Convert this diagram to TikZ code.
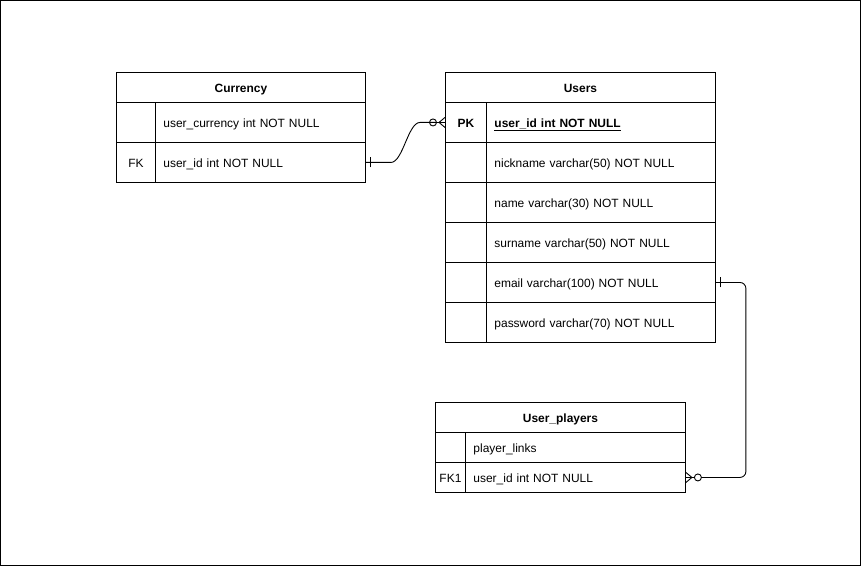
\documentclass[tikz,border=0pt]{standalone}
\usepackage{fontspec}
\setmainfont{Liberation Sans}
\begin{document}
\begin{tikzpicture}[x=1bp,y=-1bp,line width=0.9bp,
  every node/.style={font=\fontsize{12}{14}\selectfont, text height=9.5bp, text depth=0pt},
  hdr/.style={draw, font=\fontsize{12}{14}\selectfont\bfseries, minimum height=30bp, inner sep=0pt, anchor=north west},
  keyc/.style={draw, minimum height=40bp, inner sep=0pt, anchor=north west},
  fld/.style={draw, minimum height=40bp, inner xsep=8bp, inner ysep=0pt, anchor=north west, align=left},
  conn/.style={line width=0.9bp}]
\useasboundingbox (0,0) rectangle (861,566);
\draw (0.5,0.5) rectangle (860.5,565.5);
% Currency
\node[hdr, minimum width=249bp] (cur) at (116,72) {Currency};
\node[keyc, minimum width=39bp] (curk1) at (116,102) {};
\node[fld, text width=194bp] (curf1) at (155,102) {user\_currency int NOT NULL};
\node[keyc, minimum width=39bp] (curk2) at (116,142) {FK};
\node[fld, text width=194bp] (curf2) at (155,142) {user\_id int NOT NULL};
% Users
\node[hdr, minimum width=270bp] (usr) at (445,72) {Users};
\node[keyc, minimum width=41bp, font=\fontsize{12}{14}\selectfont\bfseries] (usk1) at (445,102) {PK};
\node[fld, text width=213bp, font=\fontsize{12}{14}\selectfont\bfseries] (usf1) at (486,102) {\underline{user\_id int NOT NULL}};
\node[keyc, minimum width=41bp] (usk2) at (445,142) {};
\node[fld, text width=213bp] (usf2) at (486,142) {nickname varchar(50) NOT NULL};
\node[keyc, minimum width=41bp] (usk3) at (445,182) {};
\node[fld, text width=213bp] (usf3) at (486,182) {name varchar(30) NOT NULL};
\node[keyc, minimum width=41bp] (usk4) at (445,222) {};
\node[fld, text width=213bp] (usf4) at (486,222) {surname varchar(50) NOT NULL};
\node[keyc, minimum width=41bp] (usk5) at (445,262) {};
\node[fld, text width=213bp] (usf5) at (486,262) {email varchar(100) NOT NULL};
\node[keyc, minimum width=41bp] (usk6) at (445,302) {};
\node[fld, text width=213bp] (usf6) at (486,302) {password varchar(70) NOT NULL};
% User_players
\node[hdr, minimum width=250bp] (upl) at (435,402) {User\_players};
\node[keyc, minimum width=30bp, minimum height=30bp] (upk1) at (435,432) {};
\node[fld, text width=204bp, minimum height=30bp] (upf1) at (465,432) {player\_links};
\node[keyc, minimum width=30bp, minimum height=30bp] (upk2) at (435,462) {FK1};
\node[fld, text width=204bp, minimum height=30bp] (upf2) at (465,462) {user\_id int NOT NULL};
% Connector Currency -> Users
\coordinate (c1a) at ([xshift=25bp]curf2.east);
\coordinate (c1b) at ([xshift=-25bp]usk1.west);
\draw[conn] (curf2.east) -- (c1a) .. controls ([xshift=12bp]c1a) and ([xshift=-12bp]c1b) .. (c1b) -- ([xshift=-8.5bp]usk1.west);
\draw[conn] ([xshift=5bp,yshift=-5bp]curf2.east) -- ([xshift=5bp,yshift=5bp]curf2.east);
\draw[conn] ([xshift=-12bp]usk1.west) circle (3.5bp);
\draw[conn] ([xshift=-6bp]usk1.west) -- ([yshift=-5bp]usk1.west);
\draw[conn] ([xshift=-6bp]usk1.west) -- ([yshift=5bp]usk1.west);
\draw[conn] ([xshift=-8.5bp]usk1.west) -- (usk1.west);
% Connector Users -> User_players
\coordinate (c2a) at ([xshift=30bp]usf5.east);
\coordinate (c2b) at (c2a |- upf2.east);
\draw[conn, rounded corners=6bp] (usf5.east) -- (c2a) -- (c2b) -- ([xshift=15.5bp]upf2.east);
\draw[conn] ([xshift=5bp,yshift=-5bp]usf5.east) -- ([xshift=5bp,yshift=5bp]usf5.east);
\draw[conn] ([xshift=12bp]upf2.east) circle (3.5bp);
\draw[conn] ([xshift=6bp]upf2.east) -- ([yshift=-5bp]upf2.east);
\draw[conn] ([xshift=6bp]upf2.east) -- ([yshift=5bp]upf2.east);
\draw[conn] ([xshift=8.5bp]upf2.east) -- (upf2.east);
\end{tikzpicture}
\end{document}
